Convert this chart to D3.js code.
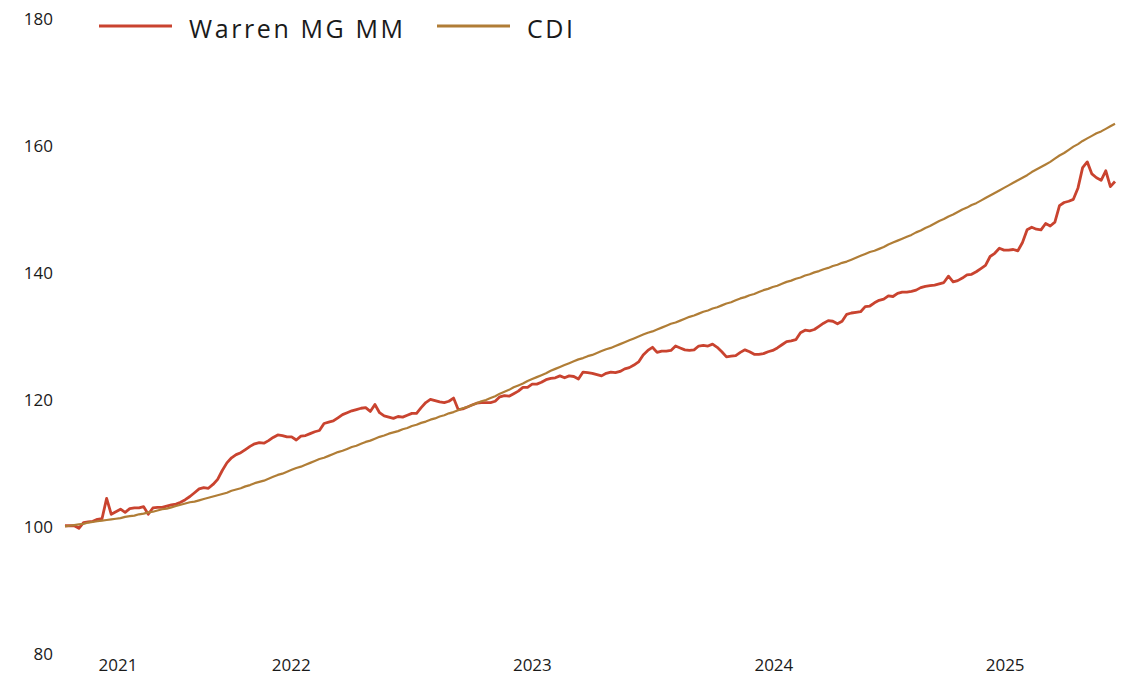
<!DOCTYPE html>
<html><head><meta charset="utf-8">
<script src="https://cdn.jsdelivr.net/npm/d3@7"></script>
<style>
body{margin:0;background:#fff;}
text{font-family:"Open Sans",sans-serif;fill:#1a1a1a;}
</style>
</head><body>
<svg id="chart" width="1148" height="677"></svg>
<script>
// ---- data ----
const startDate = "2021-07-26"; // first weekly observation
const seriesNames = ["Warren MG MM", "CDI"];
const seriesColors = ["#c9432f", "#b07d36"];
const yTicks = [80, 100, 120, 140, 160, 180];
const yearLabels = ["2021", "2022", "2023", "2024", "2025"];

const warren = [
100.2,100.2,100.2,99.8,100.7,100.8,100.9,101.2,101.3,104.5,
102.0,102.4,102.8,102.3,102.9,103.0,103.0,103.2,102.0,103.0,
103.1,103.1,103.3,103.5,103.6,103.9,104.3,104.8,105.4,106.0,
106.2,106.1,106.7,107.5,108.9,110.1,110.9,111.4,111.7,112.2,
112.7,113.1,113.3,113.2,113.6,114.1,114.5,114.4,114.2,114.2,
113.7,114.3,114.4,114.7,115.0,115.2,116.3,116.5,116.7,117.2,
117.7,118.0,118.3,118.5,118.7,118.8,118.2,119.3,118.0,117.5,
117.3,117.1,117.4,117.3,117.6,117.9,117.9,118.8,119.6,120.1,
119.9,119.7,119.6,119.8,120.3,118.5,118.6,118.9,119.2,119.5,
119.6,119.6,119.6,119.8,120.5,120.7,120.6,121.0,121.4,122.0,
122.0,122.5,122.5,122.8,123.2,123.4,123.5,123.8,123.5,123.8,
123.7,123.3,124.4,124.3,124.2,124.0,123.8,124.2,124.4,124.3,
124.5,124.9,125.1,125.5,126.0,127.1,127.8,128.3,127.5,127.7,
127.7,127.8,128.5,128.2,127.9,127.8,127.9,128.5,128.6,128.5,
128.8,128.3,127.6,126.8,126.9,127.0,127.5,127.9,127.6,127.2,
127.2,127.3,127.6,127.8,128.2,128.7,129.2,129.3,129.5,130.6,
131.0,130.9,131.1,131.6,132.1,132.5,132.4,132.0,132.4,133.5,
133.7,133.8,133.9,134.7,134.8,135.3,135.7,135.9,136.4,136.3,
136.8,137.0,137.0,137.1,137.3,137.7,137.9,138.0,138.1,138.3,
138.5,139.5,138.6,138.8,139.2,139.7,139.8,140.2,140.7,141.2,
142.6,143.1,143.9,143.6,143.6,143.7,143.5,144.8,146.8,147.2,
146.9,146.8,147.8,147.4,148.0,150.6,151.1,151.3,151.6,153.4,
156.6,157.5,155.6,155.0,154.6,156.1,153.6,154.4
];

const cdi = [
100.1,100.2,100.3,100.4,100.5,100.7,100.8,100.9,101.0,101.1,
101.2,101.3,101.4,101.6,101.7,101.8,102.0,102.1,102.3,102.4,
102.6,102.8,102.9,103.1,103.3,103.5,103.7,103.9,104.0,104.2,
104.4,104.6,104.8,105.0,105.2,105.4,105.7,105.9,106.1,106.4,
106.6,106.9,107.1,107.3,107.6,107.9,108.2,108.4,108.7,109.0,
109.3,109.5,109.8,110.1,110.4,110.7,110.9,111.2,111.5,111.8,
112.0,112.3,112.6,112.8,113.1,113.4,113.6,113.9,114.2,114.4,
114.7,114.9,115.1,115.4,115.6,115.9,116.1,116.4,116.6,116.9,
117.1,117.4,117.6,117.9,118.1,118.4,118.7,118.9,119.2,119.5,
119.8,120.0,120.3,120.6,121.0,121.3,121.6,122.0,122.3,122.6,
123.0,123.3,123.6,123.9,124.2,124.6,124.9,125.2,125.5,125.8,
126.1,126.4,126.6,126.9,127.1,127.4,127.7,128.0,128.2,128.5,
128.8,129.1,129.4,129.7,130.0,130.3,130.6,130.8,131.1,131.4,
131.7,132.0,132.2,132.5,132.8,133.1,133.3,133.6,133.9,134.1,
134.4,134.6,134.9,135.2,135.4,135.7,136.0,136.2,136.5,136.7,
137.0,137.3,137.5,137.8,138.0,138.3,138.6,138.8,139.1,139.3,
139.6,139.8,140.1,140.3,140.6,140.8,141.1,141.3,141.6,141.8,
142.1,142.4,142.7,143.0,143.3,143.5,143.8,144.1,144.5,144.8,
145.1,145.4,145.7,146.0,146.4,146.7,147.1,147.4,147.8,148.2,
148.5,148.9,149.2,149.6,150.0,150.3,150.7,151.0,151.4,151.8,
152.2,152.6,153.0,153.4,153.8,154.2,154.6,155.0,155.4,155.9,
156.3,156.7,157.1,157.5,158.0,158.5,158.9,159.4,159.9,160.3,
160.8,161.2,161.6,162.0,162.3,162.7,163.1,163.5
];

// ---- chart ----
const svg = d3.select("#chart");
const t0 = d3.utcParse("%Y-%m-%d")(startDate);
const dates = warren.map((_, i) => d3.utcDay.offset(t0, 7 * i));
const first = dates[0], last = dates[dates.length - 1];

const x = d3.scaleUtc().domain([first, last]).range([65, 1115]);
const y = d3.scaleLinear().domain([80, 180]).range([654, 19]);

// y axis (labels only)
const yAxis = svg.append("g").attr("transform", "translate(56,0)")
  .call(d3.axisLeft(y).tickValues(yTicks).tickSize(0).tickPadding(3));
yAxis.select(".domain").remove();
yAxis.selectAll("text").style("font-size", "17px").style("font-family", "'Open Sans', sans-serif").attr("fill", "#1a1a1a");

// x axis: year labels centred on the visible part of each year
const yearCenters = yearLabels.map(yr => {
  const a = new Date(Date.UTC(+yr, 0, 1)), b = new Date(Date.UTC(+yr + 1, 0, 1));
  const s = a < first ? first : a, e = b > last ? last : b;
  return new Date((+s + +e) / 2);
});
const xAxis = svg.append("g").attr("transform", "translate(0,659)")
  .call(d3.axisBottom(x).tickValues(yearCenters).tickSize(0).tickPadding(0)
    .tickFormat((d, i) => yearLabels[i]));
xAxis.select(".domain").remove();
xAxis.selectAll("text").style("font-size", "17px").style("font-family", "'Open Sans', sans-serif").attr("fill", "#1a1a1a");

// lines
const line = d3.line().x((d, i) => x(dates[i])).y(d => y(d));
svg.append("path").datum(warren).attr("d", line)
  .attr("fill", "none").attr("stroke", seriesColors[0]).attr("stroke-width", 2.8)
  .attr("stroke-linejoin", "round");
svg.append("path").datum(cdi).attr("d", line)
  .attr("fill", "none").attr("stroke", seriesColors[1]).attr("stroke-width", 2.2)
  .attr("stroke-linejoin", "round");

// legend
const legendX = [99, 437];
const lg = svg.append("g");
seriesNames.forEach((name, i) => {
  lg.append("line").attr("x1", legendX[i]).attr("x2", legendX[i] + 73)
    .attr("y1", 26).attr("y2", 26)
    .attr("stroke", seriesColors[i]).attr("stroke-width", 3);
  lg.append("text").attr("x", legendX[i] + 90).attr("y", 38)
    .style("font-size", "25px").style("letter-spacing", "2.6px")
    .text(name);
});
</script>
</body></html>
